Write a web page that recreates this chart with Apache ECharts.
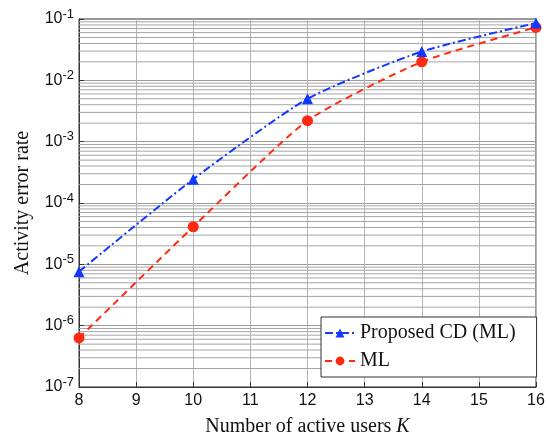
<!DOCTYPE html>
<html>
<head>
<meta charset="utf-8">
<script src="https://cdn.jsdelivr.net/npm/echarts@6/dist/echarts.min.js"></script>
<style>
  html, body { margin: 0; padding: 0; background: #fff; }
  #chart { width: 547px; height: 437px; }
</style>
</head>
<body>
<div id="chart"></div>
<script>
// data
var usersK = [8, 10, 12, 14, 16];
var proposedCD = [7.6e-6, 2.45e-4, 5.0e-3, 2.95e-2, 8.6e-2];
var mlErr = [6.3e-7, 4.1e-5, 2.2e-3, 2.0e-2, 7.3e-2];

function pairs(xs, ys) {
  var out = [];
  for (var i = 0; i < xs.length; i++) out.push([xs[i], ys[i]]);
  return out;
}

var sans = 'Liberation Sans';
var serif = 'Liberation Serif';
var blue = '#1238ff';
var red = '#ff2a10';

var series = [];

// minor grid lines at 2..9 of each decade (matlab style log grid)
for (var e = -7; e < -1; e++) {
  for (var m = 2; m <= 9; m++) {
    var v = m * Math.pow(10, e);
    series.push({
      type: 'line',
      silent: true,
      symbol: 'none',
      data: [[8, v], [16, v]],
      lineStyle: { color: '#a4a4a4', width: 1 },
      z: 1
    });
  }
}

series.push({
  name: 'Proposed CD (ML)',
  type: 'line',
  data: pairs(usersK, proposedCD),
  smooth: 0.2,
  symbol: 'triangle',
  symbolSize: 11,
  color: blue,
  lineStyle: { width: 2, type: [8, 3, 2, 3] },
  itemStyle: { color: blue },
  z: 4
});
series.push({
  name: 'ML',
  type: 'line',
  data: pairs(usersK, mlErr),
  smooth: 0.2,
  symbol: 'circle',
  symbolSize: 11,
  color: red,
  lineStyle: { width: 2, type: [7, 5] },
  itemStyle: { color: red },
  z: 3
});

var chart = echarts.init(document.getElementById('chart'));
var option = {
  animation: false,
  grid: {
    left: 79, right: 11, top: 19, bottom: 50,
    outerBoundsMode: 'none',
    show: true, borderColor: '#333', borderWidth: 1
  },
  legend: {
    orient: 'vertical',
    left: 321, top: 317,
    padding: [6, 21, 6, 3],
    itemGap: 8,
    itemWidth: 30, itemHeight: 11,
    backgroundColor: '#fff',
    borderColor: '#333', borderWidth: 1,
    textStyle: { fontFamily: serif, fontSize: 20, color: '#111' },
    data: ['Proposed CD (ML)', 'ML']
  },
  xAxis: {
    type: 'value',
    min: 8, max: 16, interval: 1,
    name: 'Number of active users {k|K}',
    nameLocation: 'middle',
    nameGap: 30,
    nameTextStyle: {
      fontFamily: serif, fontSize: 20, color: '#111',
      rich: { k: { fontFamily: serif, fontSize: 20, fontStyle: 'italic', color: '#111' } }
    },
    axisLine: { lineStyle: { color: '#333' } },
    axisTick: { inside: true, length: 5, lineStyle: { color: '#333' } },
    axisLabel: { fontFamily: sans, fontSize: 16, color: '#111', margin: 6 },
    splitLine: { lineStyle: { color: '#b4b4b4', width: 1 } }
  },
  yAxis: {
    type: 'log',
    logBase: 10,
    min: 1e-7, max: 1e-1,
    name: 'Activity error rate',
    nameLocation: 'middle',
    nameGap: 46,
    nameTextStyle: { fontFamily: serif, fontSize: 20, color: '#111' },
    axisLine: { lineStyle: { color: '#333' } },
    axisTick: { inside: true, length: 5, lineStyle: { color: '#333' } },
    axisLabel: {
      fontFamily: sans, fontSize: 16, color: '#111', margin: 5,
      formatter: function (v) {
        return '10{s|' + Math.round(Math.log10(v)) + '}';
      },
      rich: { s: { fontFamily: sans, fontSize: 13, color: '#111', verticalAlign: 'top', padding: [0, 0, 10, 0] } }
    },
    splitLine: { lineStyle: { color: '#9a9a9a', width: 1 } }
  },
  series: series
};
chart.setOption(option);
</script>
</body>
</html>
